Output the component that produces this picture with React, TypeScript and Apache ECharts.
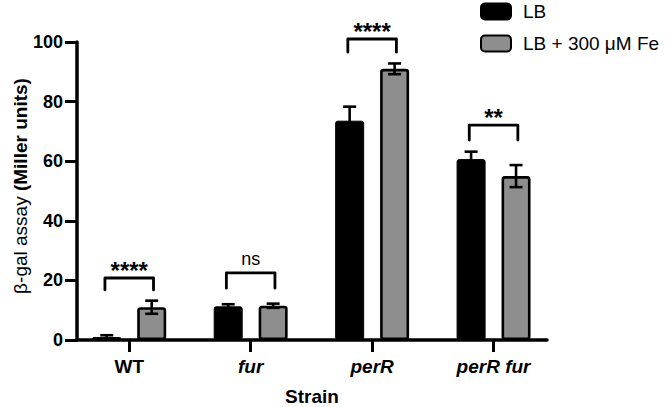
import React, { useEffect, useRef } from "react";
import * as echarts from "echarts";

const categories = ["WT", "fur", "perR", "perR fur"];
const italicCats = [false, true, true, true];
const seriesNames = ["LB", "LB + 300 μM Fe"];
const lbValues = [1.0, 11.3, 73.6, 60.7];
const lbErrors = [0.6, 0.7, 4.7, 2.5];
const feValues = [11.0, 11.5, 91.0, 55.0];
const feErrors = [2.2, 0.7, 1.8, 3.7];
const yTicks = [0, 20, 40, 60, 80, 100];
// brackets: category index, bracket top value, leg bottom value, label
const bracketCats = [0, 1, 2, 3];
const bracketTops = [20.8, 22.5, 101, 72.1];
const bracketBottoms = [16.8, 17.4, 96.6, 67.1];
const bracketLabels = ["****", "ns", "****", "**"];
const yTitleA = "β-gal assay";
const yTitleB = "(Miller units)";

const FONT = "'Liberation Sans', Arial, Helvetica, sans-serif";
const BAR_W = 29;
const BAR_GAP = 0.55;

export default function App() {
  const ref = useRef<HTMLDivElement>(null);
  useEffect(() => {
    if (!ref.current) return;
    const chart = echarts.init(ref.current, null, { renderer: "svg" });

    const errRender = (sign: number) => (params: any, api: any) => {
      const x = api.value(0);
      const v = api.value(1);
      const e = api.value(2);
      const off = (sign * BAR_W * (1 + BAR_GAP)) / 2;
      const hi = api.coord([x, v + e]);
      const lo = api.coord([x, Math.max(0, v - e)]);
      const cx = hi[0] + off;
      const cap = 6.5;
      const st = { stroke: "#000", lineWidth: 2.6, lineCap: "butt" };
      return {
        type: "group",
        children: [
          { type: "line", shape: { x1: cx, y1: hi[1], x2: cx, y2: lo[1] }, style: st },
          { type: "line", shape: { x1: cx - cap, y1: hi[1], x2: cx + cap, y2: hi[1] }, style: st },
          { type: "line", shape: { x1: cx - cap, y1: lo[1], x2: cx + cap, y2: lo[1] }, style: st },
        ],
      };
    };

    const bracketRender = (params: any, api: any) => {
      const x = api.value(0);
      const top = api.value(1);
      const bot = api.value(2);
      const label = bracketLabels[params.dataIndex];
      const half = 0.2;
      const pl = api.coord([x - half, top]);
      const pr = api.coord([x + half, top]);
      const pb = api.coord([x, bot]);
      const isStar = label.indexOf("*") >= 0;
      return {
        type: "group",
        children: [
          {
            type: "polyline",
            shape: {
              points: [
                [pl[0], pb[1]],
                [pl[0], pl[1]],
                [pr[0], pr[1]],
                [pr[0], pb[1]],
              ],
            },
            style: { stroke: "#000", lineWidth: 2.8, fill: null, lineJoin: "round", lineCap: "round" },
          },
          {
            type: "text",
            x: (pl[0] + pr[0]) / 2,
            y: pl[1] - (isStar ? 8 : 14),
            style: {
              text: label,
              fill: "#000",
              font: isStar ? `bold 24px ${FONT}` : `18px ${FONT}`,
              textAlign: "center",
              textVerticalAlign: "middle",
            },
          },
        ],
      };
    };

    chart.setOption({
      animation: false,
      backgroundColor: "#fff",
      grid: { left: 77, top: 42, right: 119, bottom: 67, containLabel: false, outerBoundsMode: "none" },
      legend: {
        data: seriesNames,
        orient: "vertical",
        left: 475,
        top: -3,
        itemWidth: 30,
        itemHeight: 16,
        itemGap: 13,
        icon: "roundRect",
        textStyle: { fontSize: 19, color: "#000", fontFamily: FONT, padding: [0, 0, 0, 7] },
      },
      graphic: [
        {
          type: "text",
          x: 20,
          y: 186,
          rotation: Math.PI / 2,
          style: {
            text: `{a|${yTitleA}} {b|${yTitleB}}`,
            align: "center",
            verticalAlign: "middle",
            fill: "#000",
            fontSize: 19,
            fontFamily: FONT,
            rich: {
              a: { fontSize: 19, fontFamily: FONT, fill: "#000", fontWeight: "normal" },
              b: { fontSize: 19, fontFamily: FONT, fill: "#000", fontWeight: "bold" },
            },
          },
        },
      ],
      xAxis: {
        type: "value",
        min: -0.43,
        max: 3.44,
        splitLine: { show: false },
        axisLine: { show: true, lineStyle: { color: "#000", width: 3.5 } },
        axisTick: { show: true, length: 12, lineStyle: { color: "#000", width: 3 }, customValues: [0, 1, 2, 3] },
        axisLabel: {
          customValues: [0, 1, 2, 3],
          margin: 17,
          formatter: (v: number) => {
            const i = Math.round(v);
            return italicCats[i] ? `{i|${categories[i]}}` : `{n|${categories[i]}}`;
          },
          rich: {
            n: { fontWeight: "bold", fontSize: 19, color: "#000", fontFamily: FONT },
            i: { fontWeight: "bold", fontStyle: "italic", fontSize: 19, color: "#000", fontFamily: FONT },
          },
        },
        name: "Strain",
        nameLocation: "middle",
        nameGap: 47,
        nameTextStyle: { fontWeight: "bold", fontSize: 19, color: "#000", fontFamily: FONT },
      },
      yAxis: {
        type: "value",
        min: yTicks[0],
        max: yTicks[yTicks.length - 1],
        interval: 20,
        splitLine: { show: false },
        axisLine: { show: true, onZero: false, lineStyle: { color: "#000", width: 3.5 } },
        axisTick: { show: true, length: 12, lineStyle: { color: "#000", width: 3 } },
        axisLabel: { margin: 14, fontWeight: "bold", fontSize: 18, color: "#000", fontFamily: FONT },
      },
      series: [
        {
          name: seriesNames[0],
          type: "bar",
          barWidth: BAR_W,
          barGap: `${BAR_GAP * 100}%`,
          data: lbValues.map((v, i) => [i, v]),
          itemStyle: { color: "#000", borderColor: "#000", borderWidth: 1, borderRadius: 2 },
        },
        {
          name: seriesNames[1],
          type: "bar",
          barWidth: BAR_W,
          data: feValues.map((v, i) => [i, v]),
          itemStyle: { color: "#8e8e8e", borderColor: "#000", borderWidth: 2.6, borderRadius: 2 },
        },
        {
          type: "custom",
          name: "errLB",
          z: 5,
          renderItem: errRender(-1),
          data: lbValues.map((v, i) => [i, v, lbErrors[i]]),
          encode: { x: 0, y: 1 },
        },
        {
          type: "custom",
          name: "errFe",
          z: 5,
          renderItem: errRender(1),
          data: feValues.map((v, i) => [i, v, feErrors[i]]),
          encode: { x: 0, y: 1 },
        },
        {
          type: "custom",
          name: "brackets",
          z: 6,
          clip: false,
          renderItem: bracketRender,
          data: bracketCats.map((c, i) => [c, bracketTops[i], bracketBottoms[i]]),
          encode: { x: 0, y: 1 },
        },
      ],
    });
    return () => chart.dispose();
  }, []);
  return (
    <div
      ref={ref}
      style={{ position: "fixed", left: 0, top: 0, width: 666, height: 407, background: "#fff" }}
    />
  );
}
